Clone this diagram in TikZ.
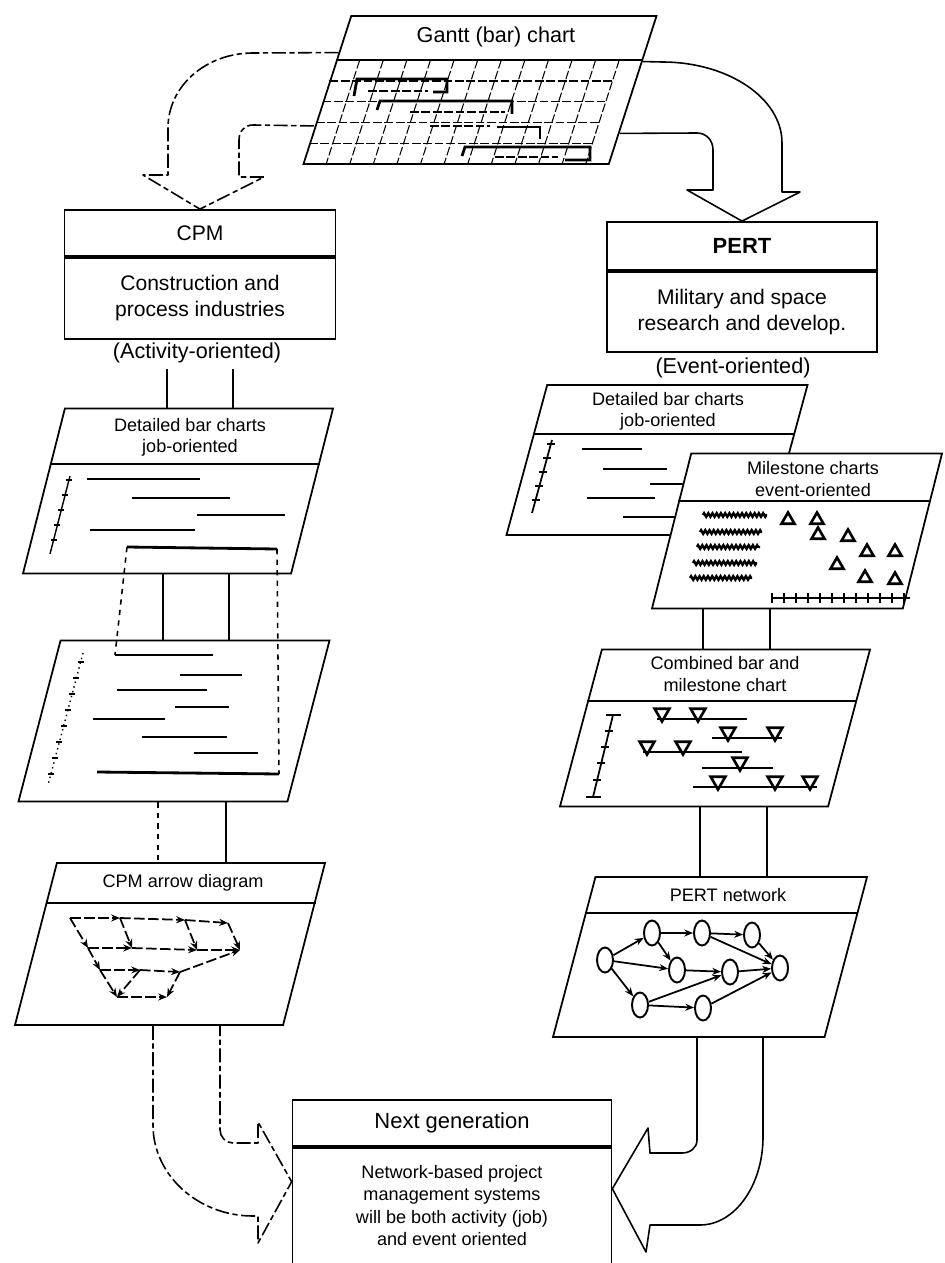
\documentclass[tikz,border=0pt]{standalone}
\usepackage{fontspec}
\setmainfont{Liberation Sans}
\usetikzlibrary{positioning,calc,shapes.geometric,arrows.meta,decorations.pathmorphing}

\tikzset{
  box/.style={draw,line width=1pt,minimum width=5.42cm,inner sep=2pt,align=center,font=\fontsize{12}{15}\selectfont},
  sheet/.style={draw,line width=1pt,fill=white,trapezium,trapezium left angle=79.5,trapezium right angle=100.5,trapezium stretches=true,inner sep=3pt,minimum width=6.2cm},
  title/.style={align=center,font=\fontsize{10.3}{12}\selectfont,inner sep=1pt},
  flow/.style={line width=0.9pt,line join=round},
  faint/.style={dash pattern=on 8pt off 2pt on 3pt off 2pt},
  link/.style={line width=0.9pt},
  bar/.style={line width=1.6pt},
  grid/.style={line width=0.6pt,dash pattern=on 5pt off 1.5pt},
  event/.style={draw,line width=1.1pt,ellipse,minimum width=0.32cm,minimum height=0.5cm,inner sep=0pt},
  mstone/.style={draw,line width=1.5pt,regular polygon,regular polygon sides=3,minimum size=0.3cm,inner sep=0pt},
  mdown/.style={mstone,shape border rotate=180,minimum size=0.34cm},
  wavy/.style={line width=1.4pt,decorate,decoration={zigzag,amplitude=1pt,segment length=2.4pt}},
}

\begin{document}
\begin{tikzpicture}[x=0.02cm,y=-0.02cm,>={Stealth[length=5pt,width=4pt]}]
\useasboundingbox (0,0) rectangle (945,1263);

% Gantt chart
\node[sheet,minimum width=7.06cm,minimum height=2.96cm] (gantt) at (480,90) {};
\node[title,font=\fontsize{12.3}{14}\selectfont] (gantttitle) at (496,37) {Gantt (bar) chart};
\coordinate (gtl) at ($(gantt.top left corner)!0.3!(gantt.bottom left corner)$);
\coordinate (gtr) at ($(gantt.top right corner)!0.3!(gantt.bottom right corner)+(-24,0)$);
\coordinate (gbl) at (gantt.bottom left corner);
\coordinate (gbr) at ($(gantt.bottom right corner)+(-24,0)$);
\draw[line width=1pt] (gtl) -- ($(gantt.top right corner)!0.3!(gantt.bottom right corner)$);
\foreach \i in {1,...,12}
  \draw[grid] ($(gtl)!\i/12!(gtr)$) -- ($(gbl)!\i/12!(gbr)$);
\foreach \j in {1,...,4}
  \draw[grid] ($(gtl)!\j/5!(gbl)$) -- ($(gtr)!\j/5!(gbr)$);
\draw[bar] (354,96) -- (357,79) -- (447,79) -- (447,92) -- (433,92);
\draw[grid,line width=0.9pt] (368,91) -- (428,91);
\draw[bar] (377,110) -- (380,101) -- (512,101) -- (512,114);
\draw[grid,line width=0.9pt] (410,112) -- (505,112);
\draw[bar] (497,127) -- (540,127) -- (540,139);
\draw[grid,line width=0.9pt] (430,126) -- (490,126);
\draw[bar] (462,156) -- (465,147) -- (590,147) -- (590,160) -- (565,160);
\draw[grid,line width=0.9pt] (495,157) -- (558,157);

% CPM and PERT boxes
\node[box,minimum height=0.92cm] (cpmhead) at (200,233) {CPM};
\node[box,minimum height=1.62cm,below=0pt of cpmhead] (cpmbody) {Construction and\\process industries};
\node[font=\fontsize{12.3}{14}\selectfont] (act) at (197,353) {(Activity-oriented)};
\node[box,minimum width=5.4cm,minimum height=0.96cm,font=\bfseries\fontsize{12.5}{15}\selectfont] (perthead) at (742,246) {PERT};
\node[box,minimum width=5.4cm,minimum height=1.6cm,below=0pt of perthead] (pertbody) {Military and space\\research and develop.};
\node[font=\fontsize{12.3}{14}\selectfont] (evt) at (733,368) {(Event-oriented)};

% arrows out of the Gantt chart
\coordinate (g1) at ($(gantt.top left corner)!0.25!(gantt.bottom left corner)$);
\coordinate (g2) at ($(gantt.top left corner)!0.74!(gantt.bottom left corner)$);
\coordinate (g3) at ($(gantt.top right corner)!0.31!(gantt.bottom right corner)$);
\coordinate (g4) at ($(gantt.top right corner)!0.79!(gantt.bottom right corner)$);
\draw[flow,faint] (g1) -- (253,53) .. controls (206,53) and (168,86) .. (168,128) -- (168,175) -- (143,175) -- (cpmhead.north) -- (264,177) -- (239,177) -- (239,140) .. controls (239,131) and (245,125) .. (253,125) -- (g2);
\draw[flow] (g3) -- (662,62) .. controls (728,62) and (782,98) .. (782,143) -- (782,192) -- (800,192) -- (perthead.north) -- (687,190) -- (713,190) -- (713,150) .. controls (713,140) and (706,133) .. (697,133) -- (g4);

% CPM side
\node[sheet,minimum height=3.3cm] (dbl) at (178,491) {};
\node[title] (dbltitle) at (190,437) {Detailed bar charts\\job-oriented};
\draw[line width=1pt] ($(dbl.top left corner)!0.34!(dbl.bottom left corner)$) -- ($(dbl.top right corner)!0.34!(dbl.bottom right corner)$);
\draw[line width=0.8pt] (70,476) -- (50,554);
\foreach \y in {480,495,...,552}
  \draw[line width=0.8pt] ({70-20*(\y-476)/78-3},\y) -- ++(6,0);
\draw[bar] (87,479) -- (200,479);
\draw[bar] (132,498) -- (230,498);
\draw[bar] (197,515) -- (285,515);
\draw[bar] (90,530) -- (195,530);
\draw[bar] (127,547) -- (277,549);

\node[sheet,minimum width=6.22cm,minimum height=3.22cm] (bars) at (174,721) {};
\draw[line width=0.8pt,dotted] (83,653) -- (48,785);
\foreach \y in {662,678,...,782}
  \draw[line width=0.8pt] ({83-35*(\y-653)/132-3},\y) -- ++(6,0);
\draw[bar] (115,655) -- (213,655);
\draw[bar] (180,675) -- (242,675);
\draw[bar] (117,690) -- (207,690);
\draw[bar] (175,707) -- (229,707);
\draw[bar] (93,719) -- (165,719);
\draw[bar] (142,737) -- (227,737);
\draw[bar] (194,753) -- (258,753);
\draw[bar] (97,772) -- (279,774);
\draw[link,dashed] (127,547) -- (115,655);
\draw[link,dashed] (277,549) -- (279,774);

\node[sheet,minimum height=3.24cm] (cpmnet) at (170,944) {};
\node[title] (cpmnettitle) at (183,883) {CPM arrow diagram};
\draw[line width=1pt] ($(cpmnet.top left corner)!0.25!(cpmnet.bottom left corner)$) -- ($(cpmnet.top right corner)!0.25!(cpmnet.bottom right corner)$);
\foreach \n/\p in {a/{70,918},b/{120,918},c/{185,920},d/{228,923},e/{88,948},f/{132,948},g/{197,950},h/{240,950},i/{100,970},j/{140,970},k/{180,972},l/{117,997},m/{167,997}}
  \coordinate (\n) at (\p);
\foreach \s/\t in {a/b,b/c,c/d,a/e,b/f,c/g,d/h,e/f,f/g,g/h,e/i,i/j,j/k,k/h,i/l,j/l,k/m,l/m}
  \draw[line width=1pt,dash pattern=on 6pt off 2pt,->] (\s) -- (\t);

% PERT side
\node[sheet,minimum width=6.02cm,minimum height=3cm] (dbr) at (657,460) {};
\node[title] (dbrtitle) at (668,411) {Detailed bar charts\\job-oriented};
\draw[line width=1pt] ($(dbr.top left corner)!0.33!(dbr.bottom left corner)$) -- ($(dbr.top right corner)!0.33!(dbr.bottom right corner)$);
\draw[line width=1pt] (552,440) -- (532,513);
\foreach \y in {444,458,...,512}
  \draw[line width=1pt] ({552-20*(\y-440)/73-4},\y) -- ++(8,0);
\draw[bar] (582,449) -- (642,449);
\draw[bar] (603,469) -- (667,469);
\draw[bar] (650,484) -- (690,484);
\draw[bar] (587,498) -- (655,498);
\draw[bar] (623,517) -- (690,517);

\node[sheet,minimum width=5.8cm,minimum height=3.1cm] (mile) at (797,531) {};
\node[title] (miletitle) at (813,479) {Milestone charts\\event-oriented};
\draw[line width=1pt] ($(mile.top left corner)!0.31!(mile.bottom left corner)$) -- ($(mile.top right corner)!0.31!(mile.bottom right corner)$);
\foreach \a/\b/\y in {703/767/515,700/762/532,697/760/547,693/757/563,690/752/578}
  \draw[wavy] (\a,\y) -- (\b,\y);
\foreach \p in {{788,520},{817,520},{818,535},{848,537},{867,552},{895,552},{837,565},{865,578},{895,580}}
  \node[mstone] at (\p) {};
\draw[line width=1pt] (772,598) -- (910,598);
\foreach \x in {772,784,...,910}
  \draw[line width=1pt] (\x,593) -- (\x,603);

\node[sheet,minimum height=3.14cm] (comb) at (715,728) {};
\node[title] (combtitle) at (725,674) {Combined bar and\\milestone chart};
\draw[line width=1pt] ($(comb.top left corner)!0.33!(comb.bottom left corner)$) -- ($(comb.top right corner)!0.33!(comb.bottom right corner)$);
\draw[line width=1pt] (613,715) -- (593,797);
\draw[line width=1.2pt] (606,715) -- (621,715) (586,797) -- (601,797);
\foreach \y in {731,747,763,780}
  \draw[line width=1pt] ({613-20*(\y-715)/82-4},\y) -- ++(8,0);
\draw[bar,line width=1.2pt] (657,719) -- (747,719);
\draw[bar,line width=1.2pt] (712,738) -- (782,738);
\draw[bar,line width=1.2pt] (643,752) -- (742,752);
\draw[bar,line width=1.2pt] (702,768) -- (773,768);
\draw[bar,line width=1.2pt] (693,787) -- (817,787);
\foreach \p in {{662,713},{698,713},{728,732},{775,732},{647,746},{683,746},{740,762},{718,781},{775,781},{810,781}}
  \node[mdown] at (\p) {};

\node[sheet,minimum width=6.28cm,minimum height=3.2cm] (pnet) at (710,957) {};
\node[title] (pnettitle) at (728,895) {PERT network};
\draw[line width=1pt] ($(pnet.top left corner)!0.23!(pnet.bottom left corner)$) -- ($(pnet.top right corner)!0.23!(pnet.bottom right corner)$);
\node[event] (n1) at (605,960) {};
\node[event] (n2) at (652,933) {};
\node[event] (n3) at (702,933) {};
\node[event] (n4) at (752,935) {};
\node[event] (n5) at (677,970) {};
\node[event] (n6) at (730,972) {};
\node[event] (n7) at (780,968) {};
\node[event] (n8) at (640,1005) {};
\node[event] (n9) at (703,1008) {};
\foreach \s/\t in {n1/n2,n1/n5,n1/n8,n2/n3,n2/n5,n3/n4,n3/n7,n4/n7,n5/n6,n6/n7,n8/n6,n8/n9,n9/n7}
  \draw[line width=1pt,->] (\s) -- (\t);

% links between the sheets
\foreach \x in {167,233}
  \draw[link] (\x,0 |- act.south) -- (\x,0 |- dbl.north);
\foreach \x in {163,229}
  \draw[link] (\x,0 |- dbl.south) -- (\x,0 |- bars.north);
\draw[link,dashed] (158,0 |- bars.south) -- (158,0 |- cpmnet.north);
\draw[link] (226,0 |- bars.south) -- (226,0 |- cpmnet.north);
\foreach \x in {707,775}
  \draw[link] (\x,0 |- evt.south) -- (\x,0 |- dbr.north);
\foreach \x in {703,770}
  \draw[link] (\x,0 |- mile.south) -- (\x,0 |- comb.north);
\foreach \x in {700,767}
  \draw[link] (\x,0 |- comb.south) -- (\x,0 |- pnet.north);

% next generation
\node[box,minimum width=6.38cm,minimum height=0.92cm,font=\fontsize{12.5}{15}\selectfont] (nghead) at (452,1123) {Next generation};
\node[box,minimum width=6.38cm,minimum height=2.32cm,below=0pt of nghead,font=\fontsize{10.3}{12.8}\selectfont] (ngbody) {Network-based project\\management systems\\will be both activity (job)\\and event oriented};
\draw[flow,faint] (153,0 |- cpmnet.south) -- (153,1125) .. controls (153,1175) and (198,1216) .. (253,1216) -- (258,1216) -- (258,1243) -- ([yshift=0.48cm]ngbody.west) -- (258,1122) -- (258,1143) -- (233,1143) .. controls (226,1143) and (220,1137) .. (220,1130) -- (220,0 |- cpmnet.south);
\draw[flow] (697,0 |- pnet.south) -- (697,1140) .. controls (697,1148) and (690,1153) .. (682,1153) -- (650,1153) -- (648,1128) -- ([yshift=0.34cm]ngbody.east) -- (646,1252) -- (650,1225) -- (700,1225) .. controls (735,1225) and (763,1185) .. (763,1137) -- (763,0 |- pnet.south);
\end{tikzpicture}
\end{document}
